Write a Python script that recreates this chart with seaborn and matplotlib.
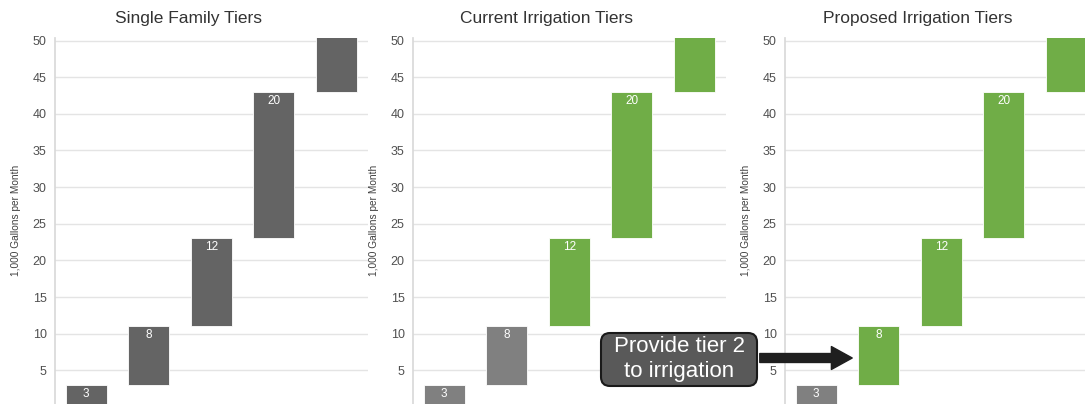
import pandas as pd
import seaborn as sns
import matplotlib.pyplot as plt
from matplotlib.patches import FancyBboxPatch, FancyArrowPatch

# Tier data (1,000 gallons per month); the last tier runs off the top of the chart
tiers = ["Tier 1", "Tier 2", "Tier 3", "Tier 4", "Tier 5"]
tier_sizes = [3, 8, 12, 20, 8]
bar_labels = ["3", "8", "12", "20", ""]
y_ticks = [5, 10, 15, 20, 25, 30, 35, 40, 45, 50]

panel_titles = ["Single Family Tiers", "Current Irrigation Tiers", "Proposed Irrigation Tiers"]
dark_gray = "#646464"
gray = "#808080"
green = "#70ad47"
panel_colors = [
    [dark_gray, dark_gray, dark_gray, dark_gray, dark_gray],
    [gray, gray, green, green, green],
    [gray, green, green, green, green],
]
note_text = "Provide tier 2\nto irrigation"

sns.set_theme(style="white")
plt.rcParams['font.family'] = ['Liberation Sans', 'DejaVu Sans']

W, H = 1085, 404
fig = plt.figure(figsize=(W / 100, H / 100), dpi=100)

df = pd.DataFrame({"tier": tiers, "size": tier_sizes, "label": bar_labels})
df["top"] = df["size"].cumsum()
df["bottom"] = df["top"] - df["size"]

# axes placement in pixels
lefts = [55, 413, 785]
ax_w = 312.5
ax_top = 37.6
title_x = [188.5, 547, 918]

for k in range(3):
    ax = fig.add_axes([lefts[k] / W, 0, ax_w / W, (H - ax_top) / H])
    sns.barplot(data=df, x="tier", y="top", hue="tier", palette=panel_colors[k],
                legend=False, width=0.656, saturation=1, ax=ax,
                edgecolor="white", linewidth=0.6)
    # turn the bars into floating waterfall steps
    for patch, (_, row) in zip(ax.patches, df.iterrows()):
        patch.set_y(row["bottom"])
        patch.set_height(row["size"])
    for i, row in df.iterrows():
        if row["label"]:
            ax.annotate(row["label"], (i, row["top"]), xytext=(0, -2),
                        textcoords="offset points", ha="center", va="top",
                        color="white", fontsize=8.5)

    ax.set_xlim(-0.5, 4.5)
    ax.set_ylim(0.41, 50.4)
    ax.set_xticks([])
    ax.set_xlabel("")
    ax.set_yticks(y_ticks)
    ax.tick_params(axis="y", length=0, pad=6, labelsize=9, labelcolor="#505050")
    ax.yaxis.grid(True, color="#e4e4e4", linewidth=1)
    ax.set_axisbelow(True)
    for side in ["top", "right", "bottom"]:
        ax.spines[side].set_visible(False)
    ax.spines["left"].set_color("#d9d9d9")
    ax.set_ylabel("1,000 Gallons per Month", fontsize=7.3, color="#404040")
    ax.yaxis.set_label_coords(-0.11, 0.5)

    fig.text(title_x[k] / W, (H - 18) / H, panel_titles[k], ha="center", va="center",
             fontsize=12.5, color="#333333")

# callout box and arrow (figure inches)
box = FancyBboxPatch((601 / 100, (H - 386) / 100), 156 / 100, 53 / 100,
                     boxstyle="round,pad=0,rounding_size=0.09",
                     transform=fig.dpi_scale_trans, facecolor="#595959",
                     edgecolor="#1a1a1a", linewidth=1.5, zorder=5)
fig.add_artist(box)
fig.text(679 / 100, (H - 359) / 100, note_text, transform=fig.dpi_scale_trans,
         ha="center", va="center", multialignment="center", linespacing=1.28,
         fontsize=16, color="white", zorder=6)
arrow = FancyArrowPatch((757 / 100, (H - 358) / 100), (855 / 100, (H - 358) / 100),
                        arrowstyle="simple,head_length=1.0,head_width=1.1,tail_width=0.43",
                        mutation_scale=15, transform=fig.dpi_scale_trans,
                        facecolor="#1f1f1f", edgecolor="#1f1f1f", zorder=5)
fig.add_artist(arrow)

fig.savefig("out.png", dpi=100)
